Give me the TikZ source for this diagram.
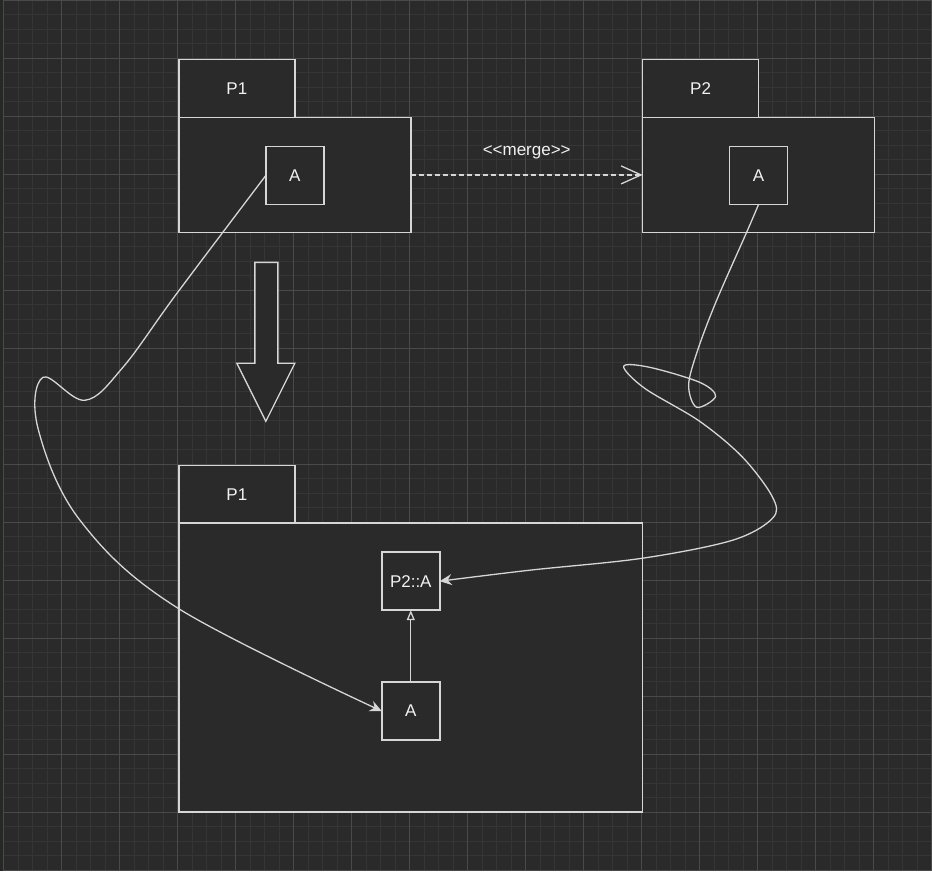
\documentclass[tikz,border=0pt]{standalone}
\usepackage{fontspec}
\newfontfamily\labelfont{Liberation Sans}
\usetikzlibrary{arrows.meta}
\definecolor{canvas}{HTML}{2A2A2A}
\definecolor{edgestrip}{HTML}{262826}
\definecolor{gridminor}{HTML}{353535}
\definecolor{gridmajor}{HTML}{4A4A4A}
\definecolor{ink}{HTML}{D6D6D6}
\definecolor{labelink}{HTML}{F2F2F2}
\begin{document}
\begin{tikzpicture}[x=1pt,y=-1pt,
  box/.style={draw=ink, line width=1.5pt, fill=canvas, inner sep=0pt, outer sep=0pt,
    text=labelink, font=\labelfont\fontsize{17}{20}\selectfont},
  tab/.style={box, minimum width=116pt, minimum height=58pt},
  body/.style={box, minimum width=232pt, minimum height=115pt},
  cls/.style={box, minimum width=58pt, minimum height=58pt},
  link/.style={draw=ink, line width=1.3pt},
  bigarrow/.style={draw=ink, line width=1.3pt, fill=canvas, line join=miter},
  flow/.style={link, -{Stealth[length=12pt,width=11pt,inset=4pt]}},
]
% canvas and grid
\fill[canvas] (0,0) rectangle (932,871);
\fill[edgestrip] (0,0) rectangle (4,871);
\foreach \i in {0,...,64} \draw[gridminor, line width=1pt] ({4+14.5*\i},0) -- ({4+14.5*\i},871);
\foreach \i in {0,...,60} \draw[gridminor, line width=1pt] (4,{14.5*\i}) -- (932,{14.5*\i});
\foreach \i in {0,...,16} \draw[gridmajor, line width=1pt] ({4+58*\i},0) -- ({4+58*\i},871);
\foreach \i in {0,...,15} \draw[gridmajor, line width=1pt] (4,{58*\i}) -- (932,{58*\i});

% package P1
\node[tab]  (t1) at (237,88) {P1};
\node[body] (b1) at (295,174.5) {};
\node[cls]  (a1) at (295,175) {A};

% package P2
\node[tab]  (t2) at (701,88) {P2};
\node[body] (b2) at (759,174.5) {};
\node[cls]  (a2) at (759,175) {A};

% merged package P1
\node[tab] (t3) at (237,494) {P1};
\node[box, minimum width=464pt, minimum height=289pt] (b3) at (411,667.5) {};
\node[cls] (p2a) at (411,581) {P2::A};
\node[cls] (a3)  at (411,711) {A};

% merge dependency
\draw[link, dash pattern=on 5pt off 3pt,
  -{Straight Barb[length=20pt,width=18pt,line width=1.3pt]}] (b1.east) -- (b2.west)
  node[midway, yshift=23pt, text=labelink, font=\labelfont\fontsize{17}{20}\selectfont]
  {<<merge>>};

% result arrow
\draw[bigarrow] (255,262) -- (278,262) -- (278,363) -- (295,363) -- (266,421)
  -- (237,363) -- (255,363) -- cycle;

% generalisation inside the merged package
\draw[link, -{Triangle[open,length=10pt,width=8pt,line width=1.3pt]}] (a3.north) -- (p2a.south);

% where each class ends up
\draw[flow] plot[smooth, tension=0.6] coordinates {(a1.west) (177,293)
  (123,367) (85,400) (43,377) (38,428) (80,520) (178,608) (a3.west)};
\draw[flow] plot[smooth, tension=0.55] coordinates {(a2.south) (747,232) (717,300)
  (698,350) (689,385) (697,407) (716,396) (700,382) (650,367) (624,366) (645,388)
  (700,421) (743,457) (773,497) (773,518) (733,540) (643,558) (530,570) (p2a.east)};
\end{tikzpicture}
\end{document}
